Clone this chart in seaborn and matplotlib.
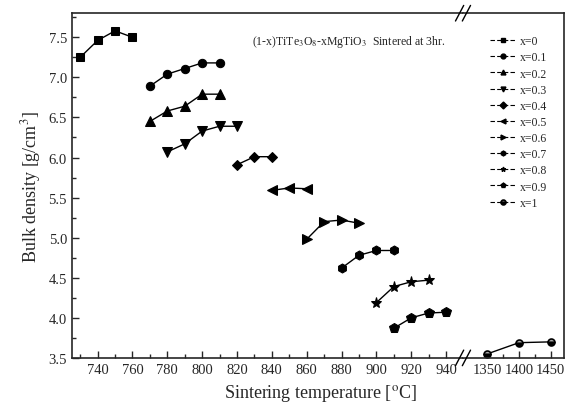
import numpy as np
import pandas as pd
import matplotlib
matplotlib.use("Agg")
import matplotlib.pyplot as plt
import seaborn as sns

# datos
comp_labels = ["x=0", "x=0.1", "x=0.2", "x=0.3", "x=0.4", "x=0.5",
               "x=0.6", "x=0.7", "x=0.8", "x=0.9", "x=1"]
temps = [
    [730, 740, 750, 760],
    [770, 780, 790, 800, 810],
    [770, 780, 790, 800, 810],
    [780, 790, 800, 810, 820],
    [820, 830, 840],
    [840, 850, 860],
    [860, 870, 880, 890],
    [880, 890, 900, 910],
    [900, 910, 920, 930],
    [910, 920, 930, 940],
    [1350, 1400, 1450],
]
density = [
    [7.25, 7.46, 7.58, 7.50],
    [6.89, 7.04, 7.11, 7.18, 7.18],
    [6.45, 6.58, 6.64, 6.79, 6.79],
    [6.07, 6.17, 6.33, 6.39, 6.39],
    [5.91, 6.01, 6.01],
    [5.59, 5.62, 5.61],
    [4.98, 5.20, 5.22, 5.18],
    [4.62, 4.78, 4.84, 4.84],
    [4.19, 4.39, 4.45, 4.47],
    [3.87, 4.00, 4.06, 4.07],
    [3.55, 3.69, 3.70],
]
markers = ["s", "o", "^", "v", "D", "<", ">", "h", "*", "p", "o"]
msizes = [5.5, 6, 6.5, 6.5, 5, 6.5, 6.5, 6.5, 8, 7, 5]

rows = []
for lab, tt, dd in zip(comp_labels, temps, density):
    for t, d in zip(tt, dd):
        rows.append({"comp": lab, "T": t, "rho": d})
df = pd.DataFrame(rows)

sns.set_style("ticks")
plt.rcParams["font.family"] = ["Liberation Serif", "DejaVu Serif"]
plt.rcParams["mathtext.fontset"] = "stix"

fig = plt.figure(figsize=(5.7, 4.06), dpi=100)
gs = fig.add_gridspec(1, 2, width_ratios=[391, 101], wspace=0,
                      left=0.126, right=0.990, bottom=0.116, top=0.965)
ax1 = fig.add_subplot(gs[0])
ax2 = fig.add_subplot(gs[1], sharey=ax1)

handles = []
for i, lab in enumerate(comp_labels):
    sub = df[df["comp"] == lab]
    ax = ax2 if sub["T"].min() > 1000 else ax1
    kw = dict(marker=markers[i], color="black",
              markeredgecolor="black")
    if lab == "x=1":
        kw.update(fillstyle="top", markerfacecolor="#aaaaaa",
                  markerfacecoloralt="black", markeredgewidth=1.2)
    sns.lineplot(data=sub, x="T", y="rho", ax=ax, estimator=None,
                 legend=False, markersize=msizes[i], linewidth=1.0, **kw)
    h, = ax1.plot([], [], linestyle=(0, (4, 2)), label=lab,
                  markersize=3.5, linewidth=0.8, **kw)
    handles.append(h)

ax1.set_xlim(725.2, 949.8)
ax2.set_xlim(1312, 1471.6)
ax1.set_ylim(3.5, 7.8)

ax1.set_xticks(np.arange(740, 941, 20))
ax1.set_xticks(np.arange(730, 950, 10), minor=True)
ax2.set_xticks([1350, 1400, 1450])
ax2.set_xticks([1375, 1425], minor=True)
ax1.set_yticks(np.arange(3.5, 7.51, 0.5))
ax1.set_yticks(np.arange(3.75, 7.8, 0.5), minor=True)
ax1.yaxis.set_major_formatter(matplotlib.ticker.FormatStrFormatter("%.1f"))

for ax in (ax1, ax2):
    ax.tick_params(which="both", direction="in", labelsize=10.5, top=False,
                   right=False, width=1.0)
    ax.tick_params(which="major", length=5)
    ax.tick_params(which="minor", length=3)
    for s in ax.spines.values():
        s.set_linewidth(1.2)
    ax.set_xlabel("")
    ax.set_ylabel("")

ax1.spines["right"].set_visible(False)
ax2.spines["left"].set_visible(False)
ax2.tick_params(axis="y", which="both", left=False, labelleft=False)

# marcas de corte //
d = 0.012
for yy in (0, 1):
    for dx in (-0.006, 0.006):
        fig.add_artist(plt.Line2D([0.8123 + dx - d * 0.6, 0.8123 + dx + d * 0.6],
                                  [0.116 + yy * 0.849 - d * 1.6, 0.116 + yy * 0.849 + d * 1.6],
                                  color="black", linewidth=1.0, transform=fig.transFigure,
                                  clip_on=False))

fig.supxlabel("Sintering temperature [$^{\\mathrm{o}}$C]", fontsize=13,
              x=0.563, y=0.005, va="bottom")
ax1.set_ylabel("Bulk density [g/cm$^3$]", fontsize=13, labelpad=4)

ax1.text(0.46, 0.92, "(1-x)TiTe$_3$O$_8$-xMgTiO$_3$  Sintered at 3hr.",
         transform=ax1.transAxes, fontsize=8.5, ha="left", va="center")

fig.legend(handles=handles, loc="upper left", bbox_to_anchor=(0.85, 0.925),
           frameon=False, fontsize=8.5, handlelength=2.2, handletextpad=0.3,
           labelspacing=0.35, borderpad=0)

fig.savefig("out.png", dpi=100)
